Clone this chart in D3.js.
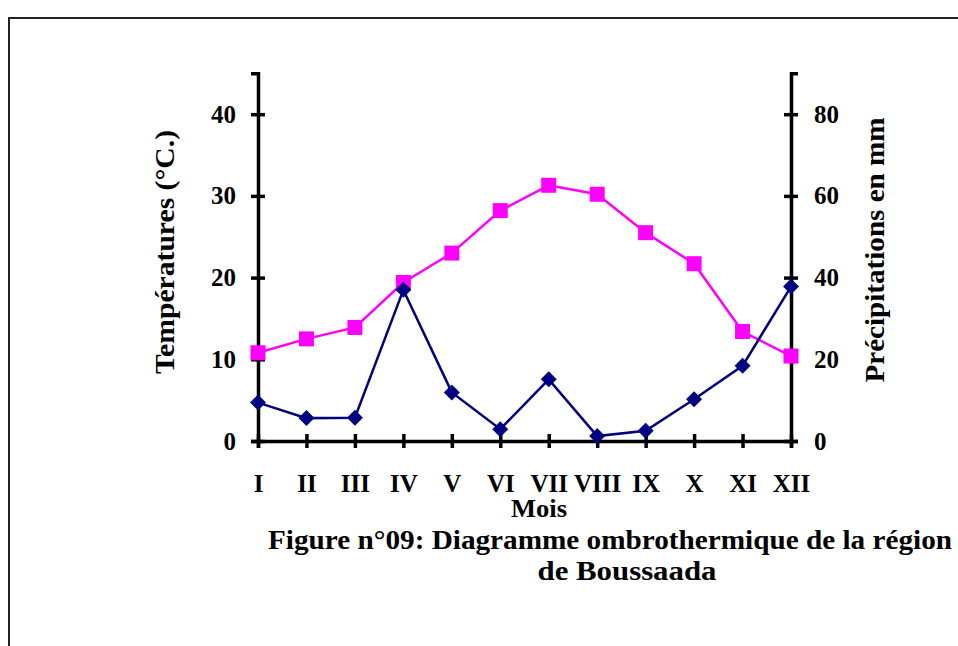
<!DOCTYPE html>
<html>
<head>
<meta charset="utf-8">
<script src="https://cdn.jsdelivr.net/npm/d3@7"></script>
<style>
  body { margin: 0; background: #fff; }
  text { font-family: "Liberation Serif", "Times New Roman", serif; font-weight: bold; fill: #000; }
</style>
</head>
<body>
<svg width="958" height="646"></svg>
<script>
// months (roman numerals) and monthly values
var months = ['I', 'II', 'III', 'IV', 'V', 'VI', 'VII', 'VIII', 'IX', 'X', 'XI', 'XII'];
var temperatures = [10.8, 12.5, 13.9, 19.4, 23.0, 28.2, 31.3, 30.2, 25.5, 21.7, 13.4, 10.4];
var precipitations = [9.4, 5.6, 5.7, 37.0, 11.9, 2.9, 15.1, 1.2, 2.5, 10.2, 18.4, 37.8];
var tempTicks = [0, 10, 20, 30, 40];
var precTicks = [0, 20, 40, 60, 80];

var svg = d3.select('svg');

// frame around the figure (goes past the right and bottom edges)
svg.append('rect')
    .attr('x', 9).attr('y', 18)
    .attr('width', 1000).attr('height', 700)
    .attr('fill', 'none')
    .attr('stroke', '#222')
    .attr('stroke-width', 2);

var x = d3.scalePoint().domain(months).range([258, 791]),
    yT = d3.scaleLinear().domain([0, 45]).range([441, 441 - 45 * 8.17]),
    yP = d3.scaleLinear().domain([0, 90]).range([441, 441 - 45 * 8.17]);

// x axis with crossing ticks
var gx = svg.append('g')
    .attr('transform', 'translate(0,' + yT(0) + ')')
    .call(d3.axisBottom(x).tickSizeOuter(0).tickSize(7).tickPadding(26));
gx.selectAll('.tick line').attr('y1', -7).attr('y2', 7);

// left axis
var gl = svg.append('g')
    .attr('transform', 'translate(' + x('I') + ',0)')
    .call(d3.axisLeft(yT).tickValues(tempTicks).tickSizeOuter(0).tickSize(7).tickPadding(15));
gl.selectAll('.tick line').attr('x1', -7).attr('x2', 7);

// right axis
var gr = svg.append('g')
    .attr('transform', 'translate(' + x('XII') + ',0)')
    .call(d3.axisRight(yP).tickValues(precTicks).tickSizeOuter(0).tickSize(7).tickPadding(16));
gr.selectAll('.tick line').attr('x1', -7).attr('x2', 7);

svg.selectAll('.domain, .tick line')
    .attr('stroke', '#000')
    .attr('stroke-width', 3.5);
svg.selectAll('.tick text')
    .attr('font-family', '"Liberation Serif", serif')
    .attr('font-weight', 'bold')
    .attr('font-size', 25)
    .attr('fill', '#000');

// temperature line (magenta squares)
var lineT = d3.line()
    .x(function(d, i) { return x(months[i]); })
    .y(function(d) { return yT(d); });
svg.append('path')
    .datum(temperatures)
    .attr('d', lineT)
    .attr('fill', 'none')
    .attr('stroke', '#ff00ff')
    .attr('stroke-width', 2.5);
svg.selectAll('.sq')
    .data(temperatures)
    .enter().append('rect')
    .attr('class', 'sq')
    .attr('x', function(d, i) { return x(months[i]) - 7.5; })
    .attr('y', function(d) { return yT(d) - 7.5; })
    .attr('width', 15).attr('height', 15)
    .attr('fill', '#ff00ff');

// precipitation line (navy diamonds)
var lineP = d3.line()
    .x(function(d, i) { return x(months[i]); })
    .y(function(d) { return yP(d); });
svg.append('path')
    .datum(precipitations)
    .attr('d', lineP)
    .attr('fill', 'none')
    .attr('stroke', '#000080')
    .attr('stroke-width', 2.5);
svg.selectAll('.dm')
    .data(precipitations)
    .enter().append('path')
    .attr('class', 'dm')
    .attr('transform', function(d, i) { return 'translate(' + x(months[i]) + ',' + yP(d) + ')'; })
    .attr('d', 'M0,-8L8,0L0,8L-8,0Z')
    .attr('fill', '#000080');

// axis titles
svg.append('text')
    .attr('transform', 'translate(174,252) rotate(-90)')
    .attr('text-anchor', 'middle')
    .attr('font-size', 27)
    .attr('textLength', 244)
    .attr('lengthAdjust', 'spacingAndGlyphs')
    .text('Températures (°C.)');

svg.append('text')
    .attr('transform', 'translate(884,250) rotate(-90)')
    .attr('text-anchor', 'middle')
    .attr('font-size', 27)
    .attr('textLength', 265)
    .attr('lengthAdjust', 'spacingAndGlyphs')
    .text('Précipitations en mm');

svg.append('text')
    .attr('x', 539).attr('y', 517)
    .attr('text-anchor', 'middle')
    .attr('font-size', 25)
    .attr('textLength', 56)
    .attr('lengthAdjust', 'spacingAndGlyphs')
    .text('Mois');

svg.append('text')
    .attr('x', 610).attr('y', 549)
    .attr('text-anchor', 'middle')
    .attr('font-size', 27)
    .attr('textLength', 684)
    .attr('lengthAdjust', 'spacingAndGlyphs')
    .text('Figure n°09: Diagramme ombrothermique de la région');

svg.append('text')
    .attr('x', 627).attr('y', 580)
    .attr('text-anchor', 'middle')
    .attr('font-size', 27)
    .attr('textLength', 179)
    .attr('lengthAdjust', 'spacingAndGlyphs')
    .text('de Boussaada');
</script>
</body>
</html>
